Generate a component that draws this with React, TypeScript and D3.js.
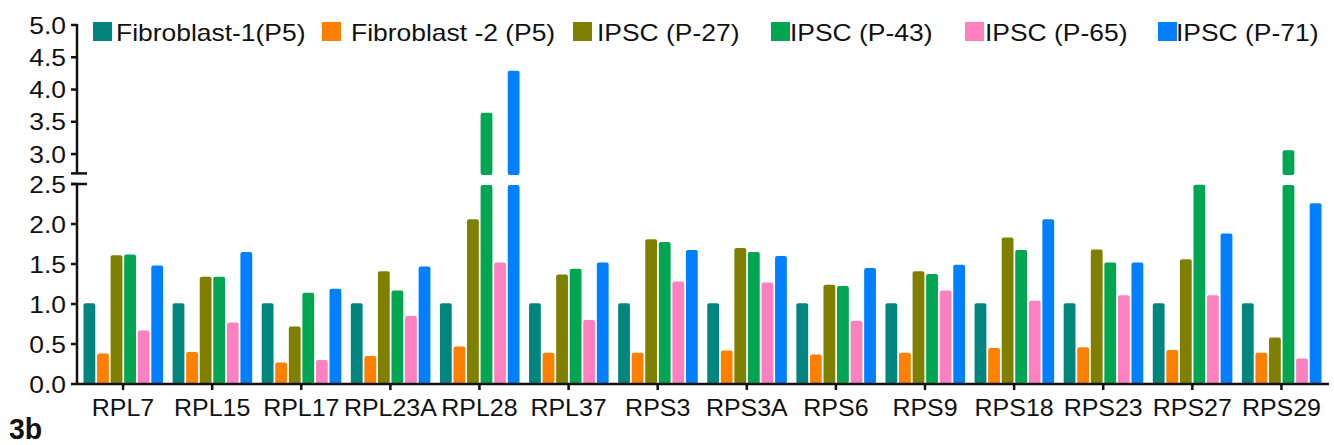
import React from 'react';
import * as d3 from 'd3';

// chart data
const categories = ['RPL7', 'RPL15', 'RPL17', 'RPL23A', 'RPL28', 'RPL37', 'RPS3', 'RPS3A', 'RPS6', 'RPS9', 'RPS18', 'RPS23', 'RPS27', 'RPS29'];
const seriesNames = ['Fibroblast-1(P5)', 'Fibroblast -2 (P5)', 'IPSC (P-27)', 'IPSC (P-43)', 'IPSC (P-65)', 'IPSC (P-71)'];
const fibroblast1 = [1.01, 1.01, 1.01, 1.01, 1.01, 1.01, 1.01, 1.01, 1.01, 1.01, 1.01, 1.01, 1.01, 1.01];
const fibroblast2 = [0.38, 0.40, 0.27, 0.35, 0.47, 0.39, 0.39, 0.42, 0.37, 0.39, 0.45, 0.46, 0.425, 0.39];
const ipscP27 = [1.61, 1.34, 0.72, 1.41, 2.06, 1.37, 1.81, 1.70, 1.24, 1.41, 1.83, 1.68, 1.56, 0.58];
const ipscP43 = [1.62, 1.34, 1.14, 1.17, 3.64, 1.44, 1.775, 1.65, 1.225, 1.375, 1.675, 1.52, 2.49, 3.06];
const ipscP65 = [0.67, 0.77, 0.30, 0.85, 1.52, 0.80, 1.28, 1.27, 0.79, 1.17, 1.04, 1.11, 1.11, 0.32];
const ipscP71 = [1.48, 1.65, 1.19, 1.47, 4.29, 1.52, 1.675, 1.60, 1.45, 1.49, 2.06, 1.52, 1.88, 2.26];
const lowerTicks = [0, 0.5, 1.0, 1.5, 2.0, 2.5];
const upperTicks = [3.0, 3.5, 4.0, 4.5, 5.0];

const allSeries = [fibroblast1, fibroblast2, ipscP27, ipscP43, ipscP65, ipscP71];
const colors = ['#00867f', '#ff7f00', '#808000', '#00a651', '#ff80c0', '#0080ff'];

const W = 1334;
const H = 445;
const font = '"Liberation Sans", Arial, Helvetica, sans-serif';
const axisX = 77;
const breakLow = 2.5;
const breakHigh = 2.7;
// legend layout (square x, text x)
const legendSquareX = [93, 322, 573, 771, 965, 1158];
const legendTextX = [116, 351, 597, 790, 985, 1176];

const x0 = d3.scaleBand<string>().domain(categories).range([78.5, 1326]).padding(0);
const x1 = d3.scaleBand<number>()
    .domain(d3.range(seriesNames.length))
    .range([5, x0.bandwidth() - 4.5])
    .paddingInner(0.13);
const yLow = d3.scaleLinear().domain([0, breakLow]).range([384, 184]);
const yHigh = d3.scaleLinear().domain([breakHigh, 5]).range([173.4, 25]);

function Bars() {
    const bw = x1.bandwidth();
    return (
        <g>
            {categories.map((cat, ci) => (
                <g key={cat} transform={`translate(${x0(cat)},0)`}>
                    {allSeries.map((series, si) => {
                        const v = series[ci];
                        const x = x1(si);
                        if (v <= breakLow) {
                            return <rect key={si} x={x} y={yLow(v)} width={bw} height={yLow(0) - yLow(v)}
                                         rx={2} fill={colors[si]} />;
                        }
                        return (
                            <g key={si}>
                                <rect x={x} y={yLow(breakLow) + 1} width={bw} height={yLow(0) - yLow(breakLow) - 1}
                                      rx={2} fill={colors[si]} />
                                <rect x={x} y={yHigh(v)} width={bw} height={yHigh(breakHigh) + 1.5 - yHigh(v)}
                                      rx={2} fill={colors[si]} />
                            </g>
                        );
                    })}
                </g>
            ))}
        </g>
    );
}

function YAxis() {
    const label = (t: number, y: number) => (
        <text key={`l${t}`} transform={`translate(66,${y + 8.5}) scale(1.1,1)`} textAnchor="end"
              fontSize={24} fontFamily={font} fill="#111">{t.toFixed(1)}</text>
    );
    return (
        <g stroke="#111" strokeWidth={2.5}>
            <line x1={axisX} x2={axisX} y1={yHigh(5) - 1} y2={yHigh(breakHigh)} />
            <line x1={axisX} x2={axisX} y1={yLow(breakLow)} y2={yLow(0) + 1} />
            <line x1={axisX - 6} x2={axisX + 10} y1={yHigh(breakHigh)} y2={yHigh(breakHigh)} />
            <line x1={axisX - 6} x2={axisX + 10} y1={yLow(breakLow)} y2={yLow(breakLow)} />
            {lowerTicks.map(t => <line key={`a${t}`} x1={axisX - 6} x2={axisX} y1={yLow(t)} y2={yLow(t)} />)}
            {upperTicks.map(t => <line key={`b${t}`} x1={axisX - 6} x2={axisX} y1={yHigh(t)} y2={yHigh(t)} />)}
            <g stroke="none">
                {lowerTicks.map(t => label(t, yLow(t)))}
                {upperTicks.map(t => label(t, yHigh(t)))}
            </g>
        </g>
    );
}

function XAxis() {
    const y0 = yLow(0);
    return (
        <g>
            <line x1={axisX} x2={1329} y1={y0} y2={y0} stroke="#111" strokeWidth={2.5} />
            {categories.map(cat => {
                const cx = (x0(cat) as number) + x0.bandwidth() / 2;
                return (
                    <g key={cat}>
                        <line x1={cx} x2={cx} y1={y0} y2={y0 + 6} stroke="#111" strokeWidth={2.5} />
                        <text transform={`translate(${cx},416) scale(1.04,1)`} textAnchor="middle" fontSize={24}
                              fontFamily={font} fill="#111">{cat}</text>
                    </g>
                );
            })}
        </g>
    );
}

function Legend() {
    return (
        <g>
            {seriesNames.map((name, i) => (
                <g key={name}>
                    <rect x={legendSquareX[i]} y={22} width={19} height={19} fill={colors[i]} />
                    <text transform={`translate(${legendTextX[i]},40.5) scale(1.15,1)`} fontSize={23}
                          fontFamily={font} fill="#111">{name}</text>
                </g>
            ))}
        </g>
    );
}

export default function App() {
    return (
        <svg width={W} height={H} style={{ position: 'absolute', left: 0, top: 0, background: '#fff' }}>
            <rect width={W} height={H} fill="#fff" />
            <Bars />
            <XAxis />
            <YAxis />
            <Legend />
            <text transform="translate(9,439) scale(0.95,1)" fontSize={30} fontWeight="bold"
                  fontFamily={font} fill="#111">3b</text>
        </svg>
    );
}
